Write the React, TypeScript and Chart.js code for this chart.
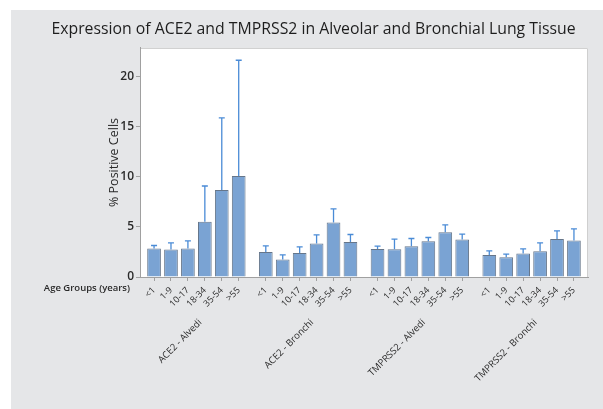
import { useEffect, useRef } from "react";
import { Chart, registerables } from "chart.js";

Chart.register(...registerables);

const chartTitle = "Expression of ACE2 and TMPRSS2 in Alveolar and Bronchial Lung Tissue";
const yAxisTitle = "% Positive Cells";
const xAxisCaption = "Age Groups (years)";
const groupLabels = ["ACE2 - Alvedi", "ACE2 - Bronchi", "TMPRSS2 - Alvedi", "TMPRSS2 - Bronchi"];
const ageGroups = ["<1", "1-9", "10-17", "18-34", "35-54", ">55"];

const ace2Alveoli = [2.85, 2.75, 2.85, 5.52, 8.7, 10.1];
const ace2AlveoliUpper = [3.15, 3.41, 3.61, 9.1, 15.9, 21.67];
const ace2Bronchi = [2.51, 1.74, 2.41, 3.35, 5.45, 3.51];
const ace2BronchiUpper = [3.11, 2.21, 3.01, 4.21, 6.82, 4.25];
const tmprss2Alveoli = [2.81, 2.78, 3.08, 3.58, 4.48, 3.75];
const tmprss2AlveoliUpper = [3.08, 3.78, 3.85, 3.95, 5.22, 4.28];
const tmprss2Bronchi = [2.21, 1.98, 2.35, 2.58, 3.81, 3.65];
const tmprss2BronchiUpper = [2.61, 2.28, 2.81, 3.41, 4.61, 4.81];

const groupValues = [ace2Alveoli, ace2Bronchi, tmprss2Alveoli, tmprss2Bronchi];
const groupUppers = [ace2AlveoliUpper, ace2BronchiUpper, tmprss2AlveoliUpper, tmprss2BronchiUpper];

const GROUP_STEP = 6.6;
const FONT = "'Open Sans', 'Noto Sans', sans-serif";

const xOf = (g: number, i: number) => g * GROUP_STEP + i;

export default function App() {
  const ref = useRef<HTMLCanvasElement>(null);

  useEffect(() => {
    if (!ref.current) return;

    const datasets = groupValues.map((vals, g) => ({
      label: groupLabels[g],
      data: vals.map((v, i) => ({ x: xOf(g, i), y: v })),
      backgroundColor: "#7aa3d3",
      borderColor: "#66768a",
      borderWidth: 1,
      barPercentage: 0.81,
      categoryPercentage: 1,
      grouped: false,
    }));

    const tickValues = groupValues.flatMap((vals, g) => vals.map((_, i) => xOf(g, i)));

    const background = {
      id: "background",
      beforeDraw(chart: any) {
        const { ctx, width, height, chartArea: a } = chart;
        ctx.save();
        ctx.fillStyle = "#ffffff";
        ctx.fillRect(0, 0, width, height);
        ctx.fillStyle = "#e5e6e8";
        ctx.fillRect(11, 10, width - 11, height - 10);
        ctx.fillStyle = "#ffffff";
        ctx.fillRect(a.left, a.top, a.right - a.left, a.bottom - a.top);
        ctx.strokeStyle = "#cfcfcf";
        ctx.lineWidth = 1;
        ctx.beginPath();
        ctx.moveTo(a.left, a.top + 0.5);
        ctx.lineTo(a.right - 0.5, a.top + 0.5);
        ctx.lineTo(a.right - 0.5, a.bottom);
        ctx.stroke();
        ctx.restore();
      },
    };

    const errorBars = {
      id: "errorBars",
      afterDatasetsDraw(chart: any) {
        const { ctx } = chart;
        const y = chart.scales.y;
        ctx.save();
        ctx.strokeStyle = "#4a8bd6";
        ctx.lineWidth = 1.3;
        chart.data.datasets.forEach((_: any, d: number) => {
          const meta = chart.getDatasetMeta(d);
          meta.data.forEach((el: any, i: number) => {
            const top = y.getPixelForValue(groupUppers[d][i]);
            ctx.beginPath();
            ctx.moveTo(el.x, el.y);
            ctx.lineTo(el.x, top);
            ctx.moveTo(el.x - 3, top);
            ctx.lineTo(el.x + 3, top);
            ctx.stroke();
          });
        });
        ctx.restore();
      },
    };

    const extraLabels = {
      id: "extraLabels",
      afterDraw(chart: any) {
        const { ctx } = chart;
        const x = chart.scales.x;
        ctx.save();
        ctx.fillStyle = "#2a2a2a";
        ctx.font = `600 9.5px ${FONT}`;
        ctx.textAlign = "right";
        ctx.textBaseline = "middle";
        ctx.fillText(xAxisCaption, 130, 288);
        ctx.font = `9.5px ${FONT}`;
        groupLabels.forEach((label, g) => {
          const cx = x.getPixelForValue(xOf(g, 2.5));
          ctx.save();
          ctx.translate(cx + 4, 321);
          ctx.rotate(-Math.PI / 4);
          ctx.fillText(label, 0, 0);
          ctx.restore();
        });
        ctx.restore();
      },
    };

    const chart = new Chart(ref.current, {
      type: "bar",
      data: { datasets },
      plugins: [background, errorBars, extraLabels],
      options: {
        animation: false,
        responsive: false,
        layout: { padding: { left: 39, right: 15, top: 0, bottom: 0 } },
        plugins: {
          legend: { display: false },
          tooltip: { enabled: false },
          title: {
            display: true,
            text: chartTitle,
            color: "#1e1e1e",
            font: { family: FONT, size: 15.8, weight: "500" },
            padding: { top: 20, bottom: 9 },
          },
        },
        scales: {
          x: {
            type: "linear",
            offset: false,
            min: -0.83,
            max: 25.63,
            afterBuildTicks(scale: any) {
              scale.ticks = tickValues.map((v) => ({ value: v }));
            },
            afterFit(scale: any) {
              scale.height = 132;
            },
            ticks: {
              autoSkip: false,
              minRotation: 45,
              maxRotation: 45,
              padding: 4,
              color: "#2a2a2a",
              font: { family: FONT, size: 9 },
              callback: (_v: any, index: number) => ageGroups[index % ageGroups.length],
            },
            grid: { drawOnChartArea: false, tickLength: 4, color: "#a0a0a0", offset: false },
            border: { color: "#a0a0a0" },
          },
          y: {
            min: 0,
            max: 22.9,
            afterFit(scale: any) {
              scale.width = 101;
            },
            ticks: {
              stepSize: 5,
              includeBounds: false,
              padding: 2,
              color: "#2a2a2a",
              font: { family: FONT, size: 12, weight: "600" },
            },
            grid: { drawOnChartArea: false, tickLength: 4, color: "#a0a0a0" },
            border: { color: "#a0a0a0" },
            title: {
              display: true,
              text: yAxisTitle,
              color: "#2a2a2a",
              font: { family: FONT, size: 12.5 },
              padding: { top: 67.5, bottom: 0 },
            },
          },
        },
      },
    });

    return () => chart.destroy();
  }, []);

  return (
    <div style={{ position: "fixed", left: 0, top: 0, width: 603, height: 409 }}>
      <canvas ref={ref} width={603} height={409} />
    </div>
  );
}
